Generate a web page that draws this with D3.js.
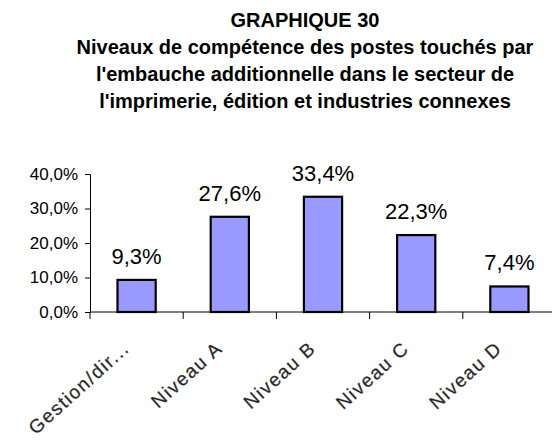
<!DOCTYPE html>
<html><head><meta charset="utf-8">
<script src="https://cdn.jsdelivr.net/npm/d3@7"></script>
<style>
html,body{margin:0;padding:0;background:#fff;}
text{font-family:Arial,"Liberation Sans",sans-serif;fill:#000;}
</style></head>
<body>
<svg id="chart" width="552" height="448"></svg>
<script>
const titleLines = ["GRAPHIQUE 30",
  "Niveaux de compétence des postes touchés par",
  "l'embauche additionnelle dans le secteur de",
  "l'imprimerie, édition et industries connexes"];
const categories = ["Gestion/dir...", "Niveau A", "Niveau B", "Niveau C", "Niveau D"];
const values = [9.3, 27.6, 33.4, 22.3, 7.4];
const yTicks = [0, 10, 20, 30, 40];

const svg = d3.select("#chart");
const fmt = v => d3.format(".1f")(v).replace(".", ",") + "%";

// Title
svg.append("g").selectAll("text").data(titleLines).join("text")
  .attr("x", 305).attr("y", (d, i) => 27 + i * 27)
  .attr("text-anchor", "middle")
  .style("font-weight", "bold").style("font-size", "20px")
  .text(d => d);

const x = d3.scaleBand().domain(categories).range([90, 556]).paddingInner(0.59).paddingOuter(0.295);
const xc = d3.scaleBand().domain(categories).range([90, 556]);
const y = d3.scaleLinear().domain([0, 40]).range([312, 174]);

// Y axis
const yAxis = svg.append("g").attr("transform", "translate(90,0)")
  .call(d3.axisLeft(y).tickValues(yTicks).tickSize(5).tickPadding(7).tickFormat(d => fmt(d)));
yAxis.selectAll("text").style("font-size", "17px").style("font-family", "Arial, 'Liberation Sans', sans-serif");
yAxis.selectAll("line,path").attr("stroke", "#000");

// X axis baseline and ticks at category boundaries
svg.append("line").attr("x1", 90).attr("x2", 556).attr("y1", y(0)).attr("y2", y(0)).attr("stroke", "#000");
const bounds = categories.map(c => xc(c)).concat([xc.range()[1]]);
svg.append("g").selectAll("line").data(bounds).join("line")
  .attr("x1", d => d).attr("x2", d => d)
  .attr("y1", y(0)).attr("y2", y(0) + 7).attr("stroke", "#000");

// Bars
svg.append("g").selectAll("rect").data(values).join("rect")
  .attr("x", (d, i) => x(categories[i]))
  .attr("width", x.bandwidth())
  .attr("y", d => y(d))
  .attr("height", d => y(0) - y(d))
  .attr("fill", "#9999FF").attr("stroke", "#000").attr("stroke-width", 2.2);

// Value labels
svg.append("g").selectAll("text").data(values).join("text")
  .attr("x", (d, i) => xc(categories[i]) + xc.bandwidth() / 2)
  .attr("y", d => y(d) - 16)
  .attr("text-anchor", "middle")
  .style("font-size", "22px")
  .text(d => fmt(d));

// Category labels, rotated
svg.append("g").selectAll("text").data(categories).join("text")
  .attr("transform", d => `translate(${xc(d) + xc.bandwidth() / 2 - 6},${y(0) + 38}) rotate(-42)`)
  .attr("text-anchor", "end")
  .style("font-size", "19px")
  .style("letter-spacing", "1.5px")
  .style("fill", "#222")
  .style("stroke", "#555").style("stroke-width", "0.3px")
  .text(d => d);
</script>
</body></html>
